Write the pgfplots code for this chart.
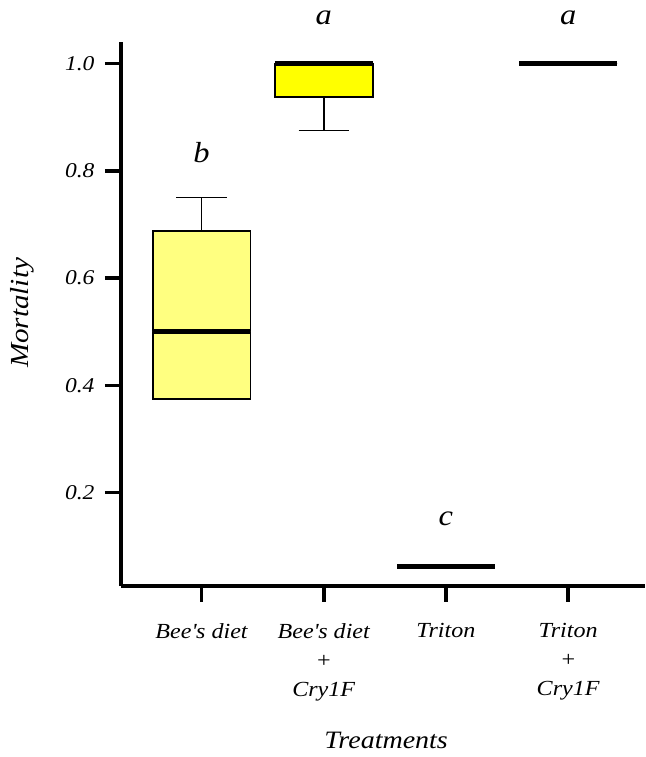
\documentclass[border=0pt]{standalone}
\usepackage{fontspec}
\setmainfont{Liberation Serif}[FakeStretch=1.12]
\usepackage{pgfplots}
\pgfplotsset{compat=1.18}
\usepgfplotslibrary{statistics}
\definecolor{lightyel}{RGB}{255,255,128}
\definecolor{yel}{RGB}{255,255,0}
\begin{document}
\begin{tikzpicture}
\useasboundingbox (-121pt,-171pt) rectangle (524pt,586pt);
\begin{axis}[
  at={(0pt,0pt)}, anchor=south west,
  scale only axis, width=524pt, height=544pt,
  xmin=0.341, xmax=4.629, ymin=0.026, ymax=1.04,
  clip=false,
  axis x line*=bottom, axis y line*=left,
  axis line style={line width=3.8pt,-},
  x axis line style={-}, y axis line style={-},
  tick align=outside,
  major tick length=16pt,
  every tick/.style={line width=3.6pt,black},
  xtick={1,2,3,4},
  xticklabels={{Bee\textquotesingle s diet},{Bee\textquotesingle s diet\\+\\Cry1F},{Triton},{Triton\\+\\Cry1F}},
  xticklabel style={align=center,font=\itshape\fontsize{21.5}{29}\selectfont,yshift=-18pt},
  ytick={0.2,0.4,0.6,0.8,1.0},
  yticklabels={0.2,0.4,0.6,0.8,1.0},
  yticklabel style={font=\itshape\fontsize{21}{22}\selectfont,xshift=-7pt},
  xlabel={Treatments},
  xlabel style={font=\itshape\fontsize{25}{28}\selectfont,at={(axis description cs:0.506,-0.283)},anchor=center},
  ylabel={Mortality},
  ylabel style={font=\itshape\fontsize{26}{28}\selectfont,at={(axis description cs:-0.189,0.502)},anchor=center},
  boxplot/draw direction=y,
  boxplot/box extend=0.8,
  boxplot/whisker extend=0.41,
  boxplot/every median/.style={line width=4.5pt},
  boxplot/every box/.style={line width=1.8pt},
  boxplot/every whisker/.style={line width=1.8pt},
]
\addplot+[black, fill=lightyel, mark=none, boxplot prepared={draw position=1,
  lower whisker=0.375, lower quartile=0.375, median=0.5, upper quartile=0.6875, upper whisker=0.75}]
  coordinates {};
\addplot+[black, fill=yel, mark=none, boxplot prepared={draw position=2,
  lower whisker=0.875, lower quartile=0.9375, median=1.0, upper quartile=1.0, upper whisker=1.0}]
  coordinates {};
\addplot+[black, fill=white, mark=none, boxplot prepared={draw position=3,
  lower whisker=0.0625, lower quartile=0.0625, median=0.0625, upper quartile=0.0625, upper whisker=0.0625}]
  coordinates {};
\addplot+[black, fill=white, mark=none, boxplot prepared={draw position=4,
  lower whisker=1.0, lower quartile=1.0, median=1.0, upper quartile=1.0, upper whisker=1.0}]
  coordinates {};
\node[anchor=base,font=\itshape\fontsize{29}{32}\selectfont] at (axis cs:1,0.816) {b};
\node[anchor=base,font=\itshape\fontsize{29}{32}\selectfont] at (axis cs:2,1.072) {a};
\node[anchor=base,font=\itshape\fontsize{29}{32}\selectfont] at (axis cs:3,0.138) {c};
\node[anchor=base,font=\itshape\fontsize{29}{32}\selectfont] at (axis cs:4,1.072) {a};
\end{axis}
\end{tikzpicture}
\end{document}
